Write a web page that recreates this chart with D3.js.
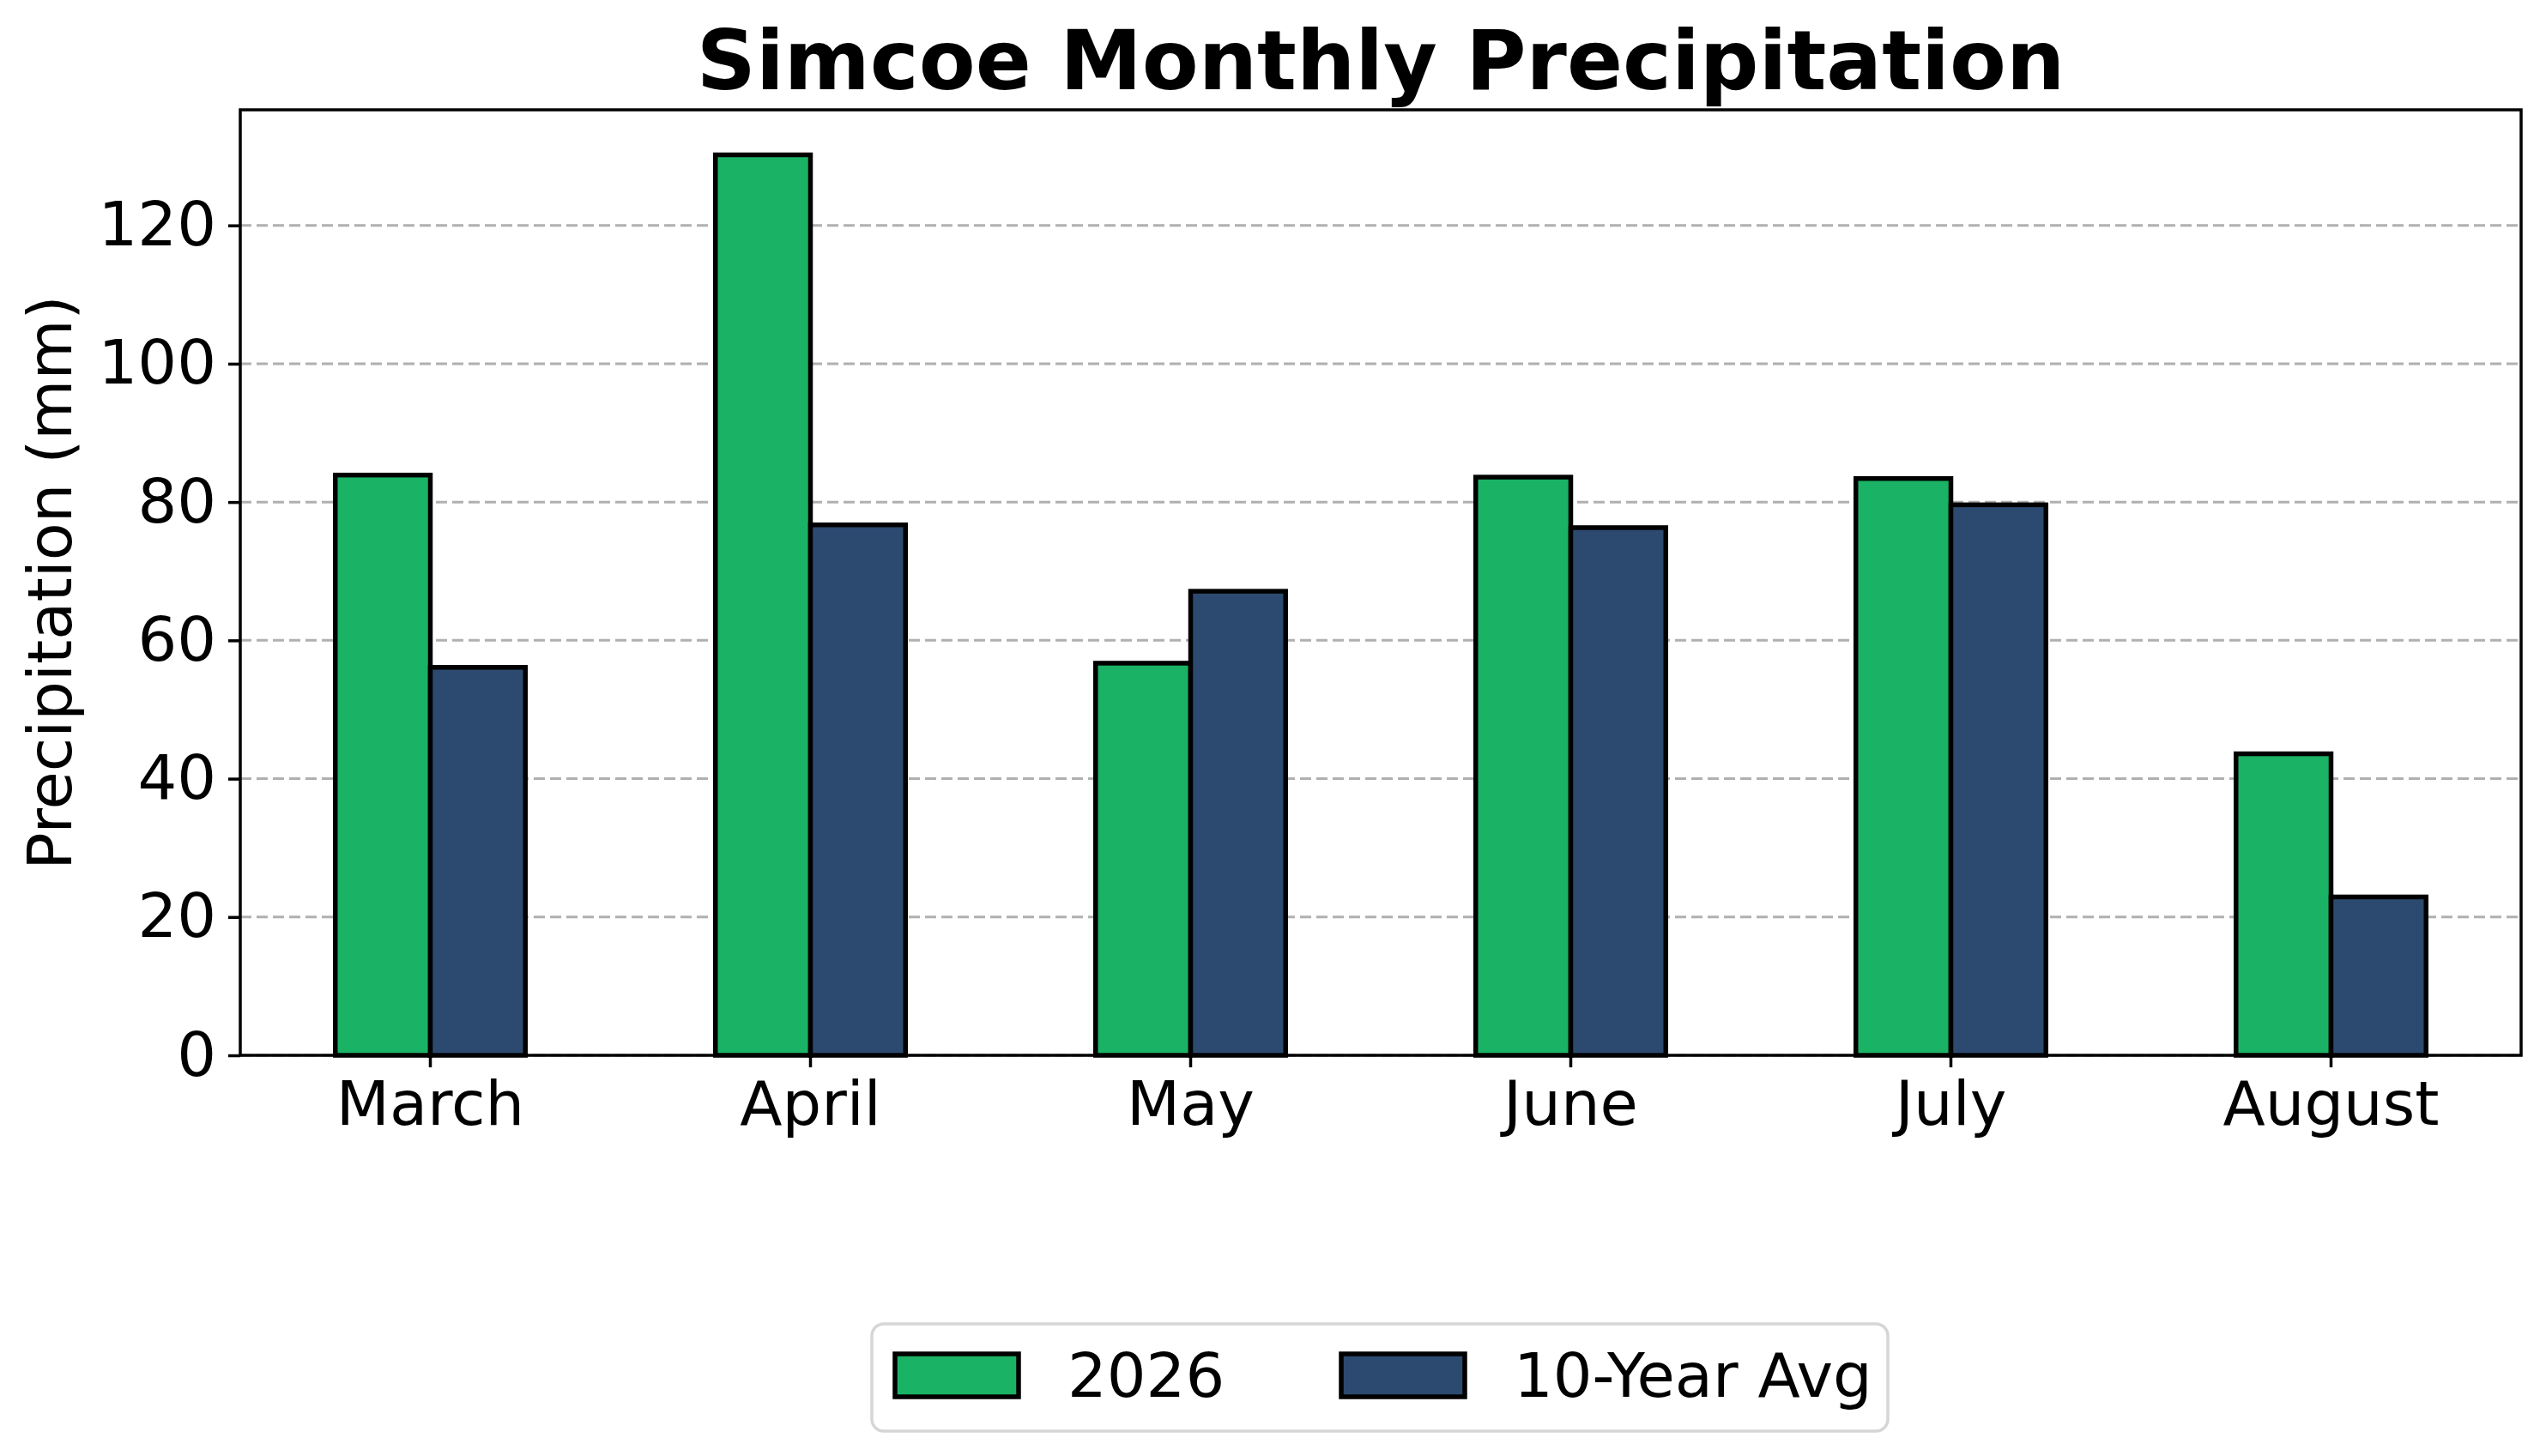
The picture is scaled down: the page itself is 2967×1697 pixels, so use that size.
<!DOCTYPE html>
<html>
<head>
<meta charset="utf-8">
<script src="https://cdn.jsdelivr.net/npm/d3@7"></script>
<style>
  html, body { margin: 0; padding: 0; background: #fff; }
  svg { display: block; font-family: "DejaVu Sans", sans-serif; }
</style>
</head>
<body>
<div id="chart"></div>
<script>
// Simcoe monthly precipitation - grouped bars
const months = ["March", "April", "May", "June", "July", "August"];
const series = ["2026", "10-Year Avg"];
const values2026 = [83.9, 130.2, 56.7, 83.6, 83.4, 43.6];
const valuesAvg = [56.1, 76.7, 67.1, 76.3, 79.6, 22.9];
const yTicks = [0, 20, 40, 60, 80, 100, 120];

const colors = { "2026": "#1ab264", "10-Year Avg": "#2c4a6f" };

const width = 2967;
const height = 1697;
const margin = { top: 128, right: 29, bottom: 467, left: 280 };
const fs = 72;

const rows = [];
months.forEach((m, i) => {
    rows.push({ month: m, key: "2026", value: values2026[i], side: -1 });
    rows.push({ month: m, key: "10-Year Avg", value: valuesAvg[i], side: 1 });
});

const x = d3.scaleBand()
    .domain(months)
    .range([margin.left, width - margin.right])
    .paddingInner(0)
    .paddingOuter(0);

const yMax = d3.max(values2026.concat(valuesAvg)) * 1.05;
const y = d3.scaleLinear()
    .domain([0, yMax])
    .range([height - margin.bottom, margin.top]);

const barW = x.bandwidth() * 0.25;

const svg = d3.select("#chart").append("svg")
    .attr("width", width)
    .attr("height", height);

// grid
svg.append("g")
    .selectAll("line")
    .data(yTicks)
    .join("line")
    .attr("x1", margin.left)
    .attr("x2", width - margin.right)
    .attr("y1", d => y(d))
    .attr("y2", d => y(d))
    .attr("stroke", "#b0b0b0")
    .attr("stroke-width", 3)
    .attr("stroke-dasharray", "13,6");

// bars
svg.append("g")
    .selectAll("rect")
    .data(rows)
    .join("rect")
    .attr("x", d => x(d.month) + x.bandwidth() / 2 + (d.side < 0 ? -barW : 0))
    .attr("y", d => y(d.value))
    .attr("width", barW)
    .attr("height", d => y(0) - y(d.value))
    .attr("fill", d => colors[d.key])
    .attr("stroke", "#000")
    .attr("stroke-width", 5.5);

// axes
const xAxis = svg.append("g")
    .attr("transform", `translate(0,${height - margin.bottom})`)
    .call(d3.axisBottom(x).tickSize(14).tickPadding(16).tickSizeOuter(0));

const yAxis = svg.append("g")
    .attr("transform", `translate(${margin.left},0)`)
    .call(d3.axisLeft(y).tickValues(yTicks).tickSize(14).tickPadding(14).tickSizeOuter(0));

[xAxis, yAxis].forEach(a => {
    a.select(".domain").remove();
    a.selectAll(".tick line").attr("stroke", "#000").attr("stroke-width", 3.5);
    a.selectAll(".tick text")
        .attr("fill", "#000")
        .style("font-family", "DejaVu Sans")
        .style("font-size", fs + "px");
});

// frame
svg.append("rect")
    .attr("x", margin.left)
    .attr("y", margin.top)
    .attr("width", width - margin.left - margin.right)
    .attr("height", height - margin.top - margin.bottom)
    .attr("fill", "none")
    .attr("stroke", "#000")
    .attr("stroke-width", 3.5);

// title
svg.append("text")
    .attr("x", (margin.left + width - margin.right) / 2)
    .attr("y", 104)
    .attr("text-anchor", "middle")
    .style("font-size", "96px")
    .style("font-weight", "bold")
    .text("Simcoe Monthly Precipitation");

// y label
svg.append("text")
    .attr("transform", `translate(83,${(margin.top + height - margin.bottom) / 2}) rotate(-90)`)
    .attr("text-anchor", "middle")
    .style("font-size", fs + "px")
    .text("Precipitation (mm)");

// legend
const legend = svg.append("g");
legend.append("rect")
    .attr("x", 1016)
    .attr("y", 1543)
    .attr("width", 1184)
    .attr("height", 125)
    .attr("rx", 14)
    .attr("fill", "#fff")
    .attr("stroke", "#d6d6d6")
    .attr("stroke-width", 3.5);

const legendX = [1043, 1563];
series.forEach((s, i) => {
    const g = legend.append("g")
        .attr("transform", `translate(${legendX[i]},1578)`);
    g.append("rect")
        .attr("width", 144)
        .attr("height", 50)
        .attr("fill", colors[s])
        .attr("stroke", "#000")
        .attr("stroke-width", 5.5);
    g.append("text")
        .attr("x", 201)
        .attr("y", 50)
        .style("font-size", fs + "px")
        .text(s);
});
</script>
</body>
</html>
